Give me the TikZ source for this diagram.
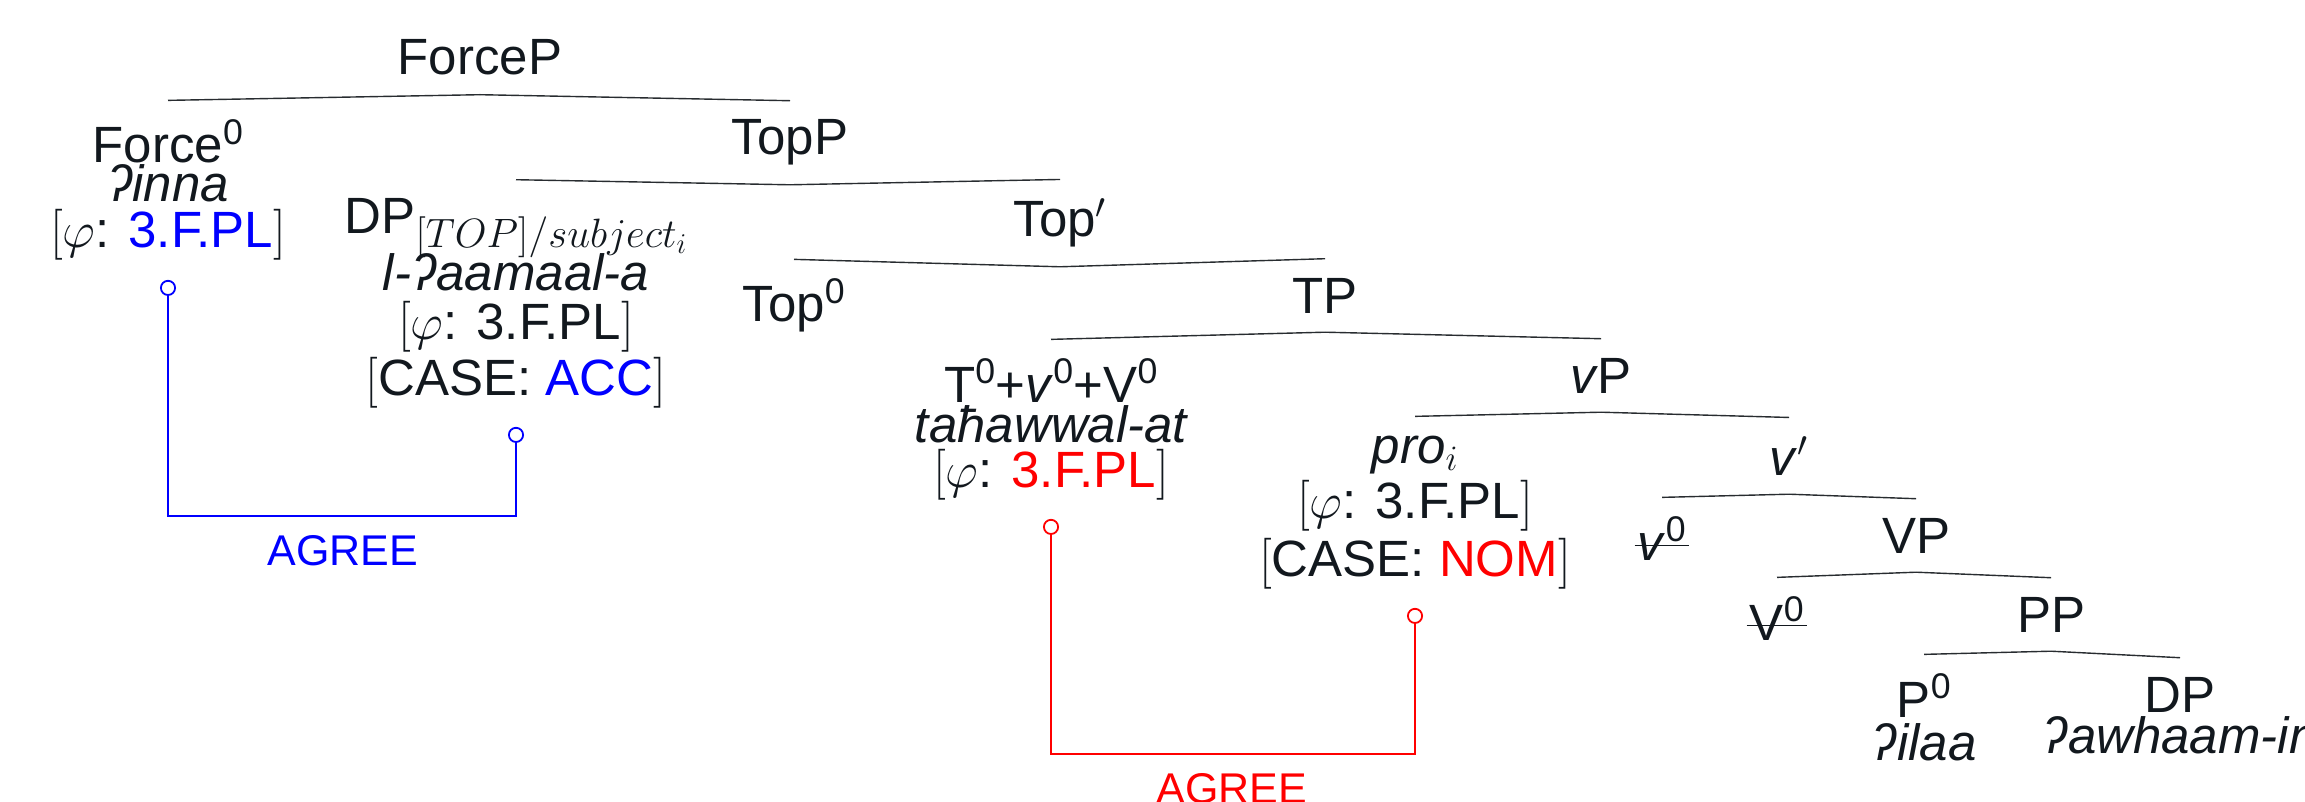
\RequirePackage{fix-cm}
\documentclass[tikz,border=0pt]{standalone}
\usepackage[no-math]{fontspec}
\setmainfont{Liberation Sans}
\usetikzlibrary{arrows.meta}
\definecolor{textc}{RGB}{18,24,30}
\definecolor{linec}{RGB}{40,44,48}
\definecolor{agblue}{RGB}{0,0,255}
\definecolor{agred}{RGB}{255,0,0}
\newcommand{\bigsub}[1]{$_{\mbox{\fontsize{41}{43}\selectfont$#1$}}$}
\tikzset{
  lbl/.style={anchor=base, inner xsep=3pt, inner ysep=19pt, text=textc,
    font=\fontsize{51}{60}\selectfont},
  gl/.style={lbl, font=\fontsize{51}{60}\selectfont\itshape},
  branch/.style={draw=linec, line width=1.4pt},
  strike/.style={draw=textc, line width=1.8pt},
  agree/.style={line width=1.8pt,
    {Circle[open,length=16pt,width=16pt]}-{Circle[open,length=16pt,width=16pt]}},
  agreelbl/.style={anchor=base, inner sep=0pt, font=\fontsize{43}{50}\selectfont}
}
\begin{document}
\begin{tikzpicture}[x=1pt,y=-1pt]
\useasboundingbox (0,0) rectangle (2305,802);
% tree labels
\node[lbl] (ForceP) at (480,75) {ForceP};
\node[lbl] (F1) at (168,163) {Force\textsuperscript{0}};
\node[gl]  (F2) at (168,202) {ʔinna};
\node[lbl] (F3) at (168,248) {$[\varphi$: \textcolor{agblue}{3.F.PL}$]$};
\node[lbl] (TopP) at (790,155) {TopP};
\node[lbl] (D1) at (516,234) {DP\bigsub{[TOP]/subject_i}};
\node[gl]  (D2) at (516,291) {l-ʔaamaal-a};
\node[lbl] (D3) at (516,339) {$[\varphi$: 3.F.PL$]$};
\node[lbl] (D4) at (516,395) {$[$CASE: \textcolor{agblue}{ACC}$]$};
\node[lbl] (Topbar) at (1060,237) {Top$'$};
\node[lbl] (Top0) at (794,322) {Top\textsuperscript{0}};
\node[lbl] (TP) at (1325,313) {TP};
\node[lbl] (T1) at (1051,402) {T\textsuperscript{0}+\textit{v}\textsuperscript{0}+V\textsuperscript{0}};
\node[gl]  (T2) at (1051,442) {taħawwal-at};
\node[lbl] (T3) at (1051,487) {$[\varphi$: \textcolor{agred}{3.F.PL}$]$};
\node[lbl] (vP) at (1601,393) {\textit{v}P};
\node[lbl] (P1) at (1415,463) {\textit{pro}$_i$};
\node[lbl] (P2) at (1415,518) {$[\varphi$: 3.F.PL$]$};
\node[lbl] (P3) at (1415,576) {$[$CASE: \textcolor{agred}{NOM}$]$};
\node[lbl] (vbar) at (1789,475) {\textit{v}$'$};
\node[lbl] (v0) at (1662,560) {\textit{v}\textsuperscript{0}};
\node[lbl] (VP) at (1916,553) {VP};
\node[lbl] (V0) at (1777,640) {V\textsuperscript{0}};
\node[lbl] (PP) at (2051,632) {PP};
\node[lbl] (P0) at (1924,717) {P\textsuperscript{0}};
\node[gl]  (Pg) at (1924,760) {ʔilaa};
\node[lbl] (DPr) at (2180,712) {DP};
\node[gl]  (DPg) at (2180,753) {ʔawhaam-in};
% strike-throughs of the moved heads
\draw[strike] ([yshift=14.5pt]v0.base west) -- ([yshift=14.5pt]v0.base east);
\draw[strike] ([yshift=14.5pt]V0.base west) -- ([yshift=14.5pt]V0.base east);
% branches
\draw[branch] (ForceP.south) -- (F1.north);
\draw[branch] (ForceP.south) -- (TopP.north);
\draw[branch] (TopP.south) -- (D1.north);
\draw[branch] (TopP.south) -- (Topbar.north);
\draw[branch] (Topbar.south) -- (Top0.north);
\draw[branch] (Topbar.south) -- (TP.north);
\draw[branch] (TP.south) -- (T1.north);
\draw[branch] (TP.south) -- (vP.north);
\draw[branch] (vP.south) -- (P1.north);
\draw[branch] (vP.south) -- (vbar.north);
\draw[branch] (vbar.south) -- (v0.north);
\draw[branch] (vbar.south) -- (VP.north);
\draw[branch] (VP.south) -- (V0.north);
\draw[branch] (VP.south) -- (PP.north);
\draw[branch] (PP.south) -- (P0.north);
\draw[branch] (PP.south) -- (DPr.north);
% AGREE relations
\coordinate (agb) at (343,516);
\coordinate (agr) at (1232,754);
\draw[agree, agblue] (F3.south) |- (agb) -| (D4.south);
\draw[agree, agred] (T3.south) |- (agr) -| (P3.south);
\node[agreelbl, text=agblue] (agreeB) at (343,565) {AGREE};
\node[agreelbl, text=agred] (agreeR) at (1232,803) {AGREE};
\end{tikzpicture}
\end{document}
